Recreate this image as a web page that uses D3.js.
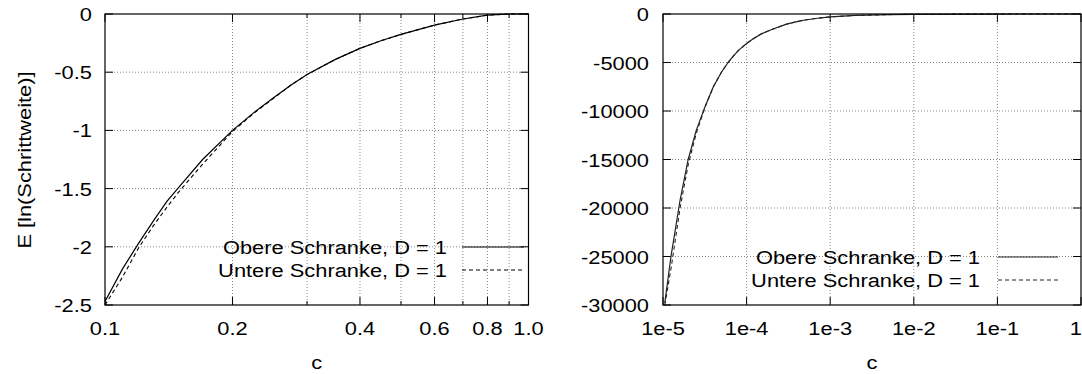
<!DOCTYPE html>
<html><head><meta charset="utf-8">
<script src="https://cdn.jsdelivr.net/npm/d3@7"></script>
<style>
html,body{margin:0;padding:0;background:#fff;}
text{font-family:"Liberation Sans",Arial,Helvetica,sans-serif;font-size:19px;fill:#000;}
</style></head>
<body><svg id="chart" width="1082" height="374"></svg>
<script>
// ---- data ----
const leftC      = [0.1, 0.11, 0.12, 0.13, 0.14, 0.15, 0.17, 0.2, 0.225, 0.25, 0.275, 0.3, 0.35, 0.4, 0.45, 0.5, 0.6, 0.7, 0.8, 0.9, 1.0];
const leftUpper  = [-2.47, -2.19, -1.97, -1.78, -1.61, -1.48, -1.25, -1.0, -0.845, -0.72, -0.61, -0.52, -0.39, -0.295, -0.228, -0.175, -0.095, -0.043, -0.01, 0, 0];
const leftLower  = [-2.5, -2.26, -2.01, -1.82, -1.66, -1.52, -1.29, -1.01, -0.85, -0.725, -0.61, -0.52, -0.39, -0.295, -0.228, -0.175, -0.095, -0.043, -0.01, 0, 0];
const rightC     = [1.05e-5, 1.25e-5, 1.6e-5, 2e-5, 2.5e-5, 3.2e-5, 4e-5, 5e-5, 6e-5, 7e-5, 8e-5, 1e-4, 1.2e-4, 1.5e-4, 2e-4, 3e-4, 4e-4, 5e-4, 7e-4, 1e-3, 2e-3, 5e-3, 1e-2, 1e-1, 1];
const rightUpper = [-29800, -24900, -19200, -15000, -12000, -9500, -7500, -6000, -5000, -4300, -3750, -3050, -2550, -2050, -1600, -1050, -780, -620, -440, -300, -150, -60, -30, -3, 0];
const rightLower = [-30000, -26200, -20000, -15540, -12300, -9550, -7500, -6000, -5000, -4300, -3750, -3050, -2550, -2050, -1600, -1050, -780, -620, -440, -300, -150, -60, -30, -3, 0];
const leftXTickLabels  = ["0.1", "0.2", "0.4", "0.6", "0.8", "1.0"];
const leftXTickVals    = [0.1, 0.2, 0.4, 0.6, 0.8, 1.0];
const leftXGridVals    = [0.1, 0.2, 0.3, 0.4, 0.5, 0.6, 0.7, 0.8, 0.9, 1.0];
const leftYTicks       = [0, -0.5, -1, -1.5, -2, -2.5];
const leftYTickLabels  = ["0", "-0.5", "-1", "-1.5", "-2", "-2.5"];
const rightXTickVals   = [1e-5, 1e-4, 1e-3, 1e-2, 1e-1, 1];
const rightXTickLabels = ["1e-5", "1e-4", "1e-3", "1e-2", "1e-1", "1"];
const rightYTicks      = [0, -5000, -10000, -15000, -20000, -25000, -30000];
const rightYTickLabels = ["0", "-5000", "-10000", "-15000", "-20000", "-25000", "-30000"];
const seriesNames = ["Obere Schranke, D = 1", "Untere Schranke, D = 1"];
const xLabel = "c";
const yLabel = "E [ln(Schrittweite)]";

// ---- drawing ----
const svg = d3.select("#chart");
const SX = 1.15;
function txt(g, x, y, s, anchor, rot) {
  g.append("text")
    .attr("transform", `translate(${x},${y})${rot ? " rotate(-90)" : ""} scale(${SX},1)`)
    .attr("text-anchor", anchor).text(s);
}

function panel(cfg) {
  const g = svg.append("g");
  const x = d3.scaleLog().domain(cfg.xDomain).range([cfg.x0, cfg.x1]);
  const y = d3.scaleLinear().domain(cfg.yDomain).range([cfg.y1, cfg.y0]);
  const T = cfg.y0, B = cfg.y1, L = cfg.x0, R = cfg.x1;

  // grid
  g.selectAll(".gx").data(cfg.xGrid.filter(v => x(v) > L + 1 && x(v) < R - 1)).enter().append("line")
    .attr("x1", d => x(d)).attr("x2", d => x(d)).attr("y1", T).attr("y2", B)
    .attr("stroke", "#888").attr("stroke-width", 1).attr("stroke-dasharray", "1,2");
  g.selectAll(".gy").data(cfg.yTicks.filter(v => y(v) > T + 1 && y(v) < B - 1)).enter().append("line")
    .attr("x1", L).attr("x2", R).attr("y1", d => y(d)).attr("y2", d => y(d))
    .attr("stroke", "#888").attr("stroke-width", 1).attr("stroke-dasharray", "1,2");

  // ticks
  cfg.xGrid.forEach(v => {
    const len = cfg.xTicks.includes(v) ? 8 : 4;
    const px = x(v);
    g.append("line").attr("x1", px).attr("x2", px).attr("y1", B).attr("y2", B - len).attr("stroke", "#000");
    g.append("line").attr("x1", px).attr("x2", px).attr("y1", T).attr("y2", T + len).attr("stroke", "#000");
  });
  cfg.yTicks.forEach(v => {
    const py = y(v);
    g.append("line").attr("x1", L).attr("x2", L + 8).attr("y1", py).attr("y2", py).attr("stroke", "#000");
    g.append("line").attr("x1", R).attr("x2", R - 8).attr("y1", py).attr("y2", py).attr("stroke", "#000");
  });

  // tick labels
  cfg.xTicks.forEach((v, i) => {
    const px = x(v);
    if (px > 1075) txt(g, 1082, 335, cfg.xLabels[i], "end");
    else txt(g, px, 335, cfg.xLabels[i], "middle");
  });
  cfg.yTicks.forEach((v, i) => txt(g, cfg.yLabelX, y(v) + 7, cfg.yLabels[i], "end"));

  // lines
  const clipId = "clip" + cfg.id;
  svg.append("clipPath").attr("id", clipId).append("rect")
    .attr("x", L).attr("y", T - 1).attr("width", R - L).attr("height", B - T + 2);
  const line = d3.line().x(d => x(d[0])).y(d => y(d[1]));
  const up = cfg.c.map((c, i) => [c, cfg.upper[i]]);
  const lo = cfg.c.map((c, i) => [c, cfg.lower[i]]);
  g.append("path").attr("d", line(lo)).attr("fill", "none").attr("stroke", cfg.col)
    .attr("stroke-width", 1.1).attr("stroke-dasharray", "4,3").attr("clip-path", `url(#${clipId})`);
  g.append("path").attr("d", line(up)).attr("fill", "none").attr("stroke", cfg.col)
    .attr("stroke-width", 1.2).attr("clip-path", `url(#${clipId})`);

  // border
  g.append("rect").attr("x", L).attr("y", T).attr("width", R - L).attr("height", B - T)
    .attr("fill", "none").attr("stroke", "#000").attr("stroke-width", 1.2);

  // legend
  const lg = cfg.legend;
  txt(g, lg.textX, lg.y1 + 7, seriesNames[0], "end");
  txt(g, lg.textX, lg.y2 + 7, seriesNames[1], "end");
  g.append("line").attr("x1", lg.lx0).attr("x2", lg.lx1).attr("y1", lg.y1).attr("y2", lg.y1)
    .attr("stroke", cfg.col).attr("stroke-width", 1.2);
  g.append("line").attr("x1", lg.lx0).attr("x2", lg.lx1).attr("y1", lg.y2).attr("y2", lg.y2)
    .attr("stroke", cfg.col).attr("stroke-width", 1.1).attr("stroke-dasharray", "4,3");

  // x axis label
  txt(g, (L + R) / 2, 369, xLabel, "middle");
}

panel({
  id: "L", x0: 105, x1: 528.5, y0: 14, y1: 305,
  xDomain: [0.1, 1.0], yDomain: [-2.5, 0],
  xGrid: leftXGridVals, xTicks: leftXTickVals, xLabels: leftXTickLabels,
  yTicks: leftYTicks, yLabels: leftYTickLabels, yLabelX: 92,
  c: leftC, upper: leftUpper, lower: leftLower, col: "#000",
  legend: { textX: 447, y1: 247, y2: 270, lx0: 462, lx1: 524 }
});
panel({
  id: "R", x0: 663, x1: 1081, y0: 14, y1: 305,
  xDomain: [1e-5, 1], yDomain: [-30000, 0],
  xGrid: rightXTickVals, xTicks: rightXTickVals, xLabels: rightXTickLabels,
  yTicks: rightYTicks, yLabels: rightYTickLabels, yLabelX: 649,
  c: rightC, upper: rightUpper, lower: rightLower, col: "#222",
  legend: { textX: 980, y1: 257, y2: 280, lx0: 998, lx1: 1058 }
});

// y axis label (left panel)
txt(svg, 31, 160, yLabel, "middle", true);
</script>
</body></html>
